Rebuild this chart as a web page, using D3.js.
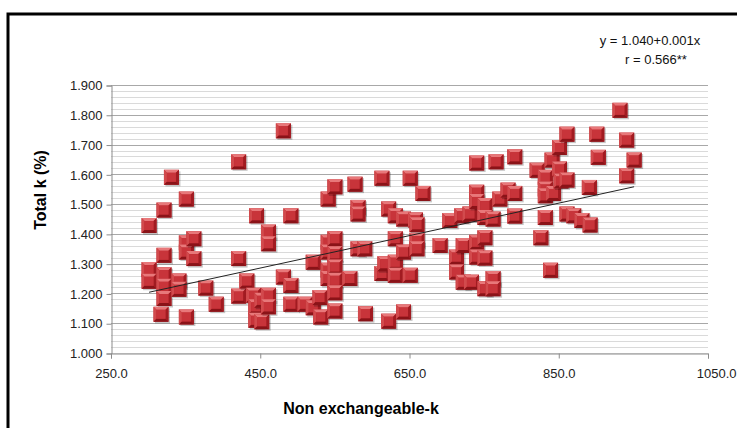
<!DOCTYPE html>
<html>
<head>
<meta charset="utf-8">
<script src="https://cdn.jsdelivr.net/npm/d3@7"></script>
<style>
  body { margin: 0; background: #fff; }
  svg { display: block; font-family: "Liberation Sans", Arial, sans-serif; }
</style>
</head>
<body>
<div id="target_area"></div>
<script>
// data: Non exchangeable-k (x) vs Total k % (y)
var nonExchK = [
  301, 301, 301,
  321, 321, 321, 321, 321, 317, 331,
  341, 341, 351, 351, 351, 351, 361, 361,
  377, 391, 421, 421, 421, 432, 441, 444, 444, 445,
  452, 452, 461, 461, 461, 461, 481, 481,
  491, 491, 491, 510, 521, 521, 530, 531,
  541, 541, 541, 541, 541,
  550, 550, 550, 550, 550, 550, 550,
  570, 577, 581, 581, 581, 590, 591,
  613, 613, 617, 622, 622, 631, 631, 631, 631,
  642, 642, 642, 651, 651, 658, 660, 660, 660, 668,
  691, 704, 713, 713, 720, 722, 722, 731, 733,
  740, 740, 740, 740, 740, 751, 751, 751, 751, 751,
  762, 762, 762, 766, 771, 782, 791, 791, 791,
  821, 826, 832, 832, 832, 832, 839, 841, 843,
  851, 851, 853, 861, 861, 861, 870, 881, 891, 892,
  901, 903, 932, 941, 941, 951
];
var totalK = [
  1.428, 1.280, 1.241,
  1.480, 1.328, 1.263, 1.224, 1.183, 1.130, 1.590,
  1.242, 1.214, 1.517, 1.370, 1.339, 1.121, 1.384, 1.317,
  1.218, 1.164, 1.642, 1.317, 1.191, 1.242, 1.194, 1.155, 1.110, 1.461,
  1.177, 1.105, 1.406, 1.367, 1.194, 1.155, 1.746, 1.255,
  1.461, 1.227, 1.164, 1.164, 1.305, 1.152, 1.186, 1.121,
  1.517, 1.372, 1.339, 1.278, 1.250,
  1.558, 1.384, 1.333, 1.289, 1.244, 1.202, 1.141,
  1.250, 1.567, 1.489, 1.467, 1.350, 1.350, 1.132,
  1.587, 1.267, 1.300, 1.484, 1.107, 1.461, 1.384, 1.305, 1.261,
  1.450, 1.339, 1.138, 1.587, 1.261, 1.447, 1.431, 1.378, 1.350, 1.536,
  1.361, 1.445, 1.322, 1.272, 1.461, 1.361, 1.238, 1.467, 1.238,
  1.638, 1.540, 1.509, 1.372, 1.322, 1.495, 1.455, 1.387, 1.319, 1.216,
  1.450, 1.250, 1.216, 1.642, 1.517, 1.547, 1.659, 1.536, 1.460,
  1.614, 1.387, 1.590, 1.551, 1.528, 1.455, 1.278, 1.648, 1.536,
  1.690, 1.618, 1.578, 1.735, 1.581, 1.467, 1.461, 1.445, 1.556, 1.430,
  1.735, 1.657, 1.815, 1.715, 1.595, 1.648
];
var xTicks = [250, 450, 650, 850, 1050];
var yTicks = [1.0, 1.1, 1.2, 1.3, 1.4, 1.5, 1.6, 1.7, 1.8, 1.9];
var trendIntercept = 1.040, trendSlope = 0.000545;
var eqLines = ["y = 1.040+0.001x", "r = 0.566**"];

var width = 737, height = 428;
var margin = {top: 85, right: 29, bottom: 75, left: 111};

var svg = d3.select("#target_area").append("svg")
  .attr("width", width)
  .attr("height", height);

var x = d3.scaleLinear().domain([250, 1050]).range([margin.left, width - margin.right]);
var y = d3.scaleLinear().domain([1.0, 1.9]).range([height - margin.bottom, margin.top]);

// outer frame (only top and left edges are in view)
svg.append("path")
  .attr("d", "M8," + height + "V14H" + width)
  .attr("fill", "none")
  .attr("stroke", "#000")
  .attr("stroke-width", 3);

// minor then major gridlines
var minor = d3.range(1.0, 1.9001, 0.02);
svg.append("g").selectAll("line")
  .data(minor)
  .enter().append("line")
  .attr("x1", margin.left).attr("x2", width - margin.right)
  .attr("y1", function (d) { return Math.round(y(d)) + 0.5; })
  .attr("y2", function (d) { return Math.round(y(d)) + 0.5; })
  .attr("stroke", "#dadada");

svg.append("g").selectAll("line")
  .data(yTicks.slice(1))
  .enter().append("line")
  .attr("x1", margin.left).attr("x2", width - margin.right)
  .attr("y1", function (d) { return Math.round(y(d)) + 0.5; })
  .attr("y2", function (d) { return Math.round(y(d)) + 0.5; })
  .attr("stroke", "#a8a8a8");

// axes
var yAxis = svg.append("g")
  .attr("transform", "translate(" + (margin.left + 0.5) + ",0.5)")
  .call(d3.axisLeft(y).tickValues(yTicks).tickFormat(d3.format(".3f")).tickSize(5).tickPadding(4));
var xAxis = svg.append("g")
  .attr("transform", "translate(0," + (height - margin.bottom + 0.5) + ")")
  .call(d3.axisBottom(x).tickValues(xTicks).tickFormat(d3.format(".1f")).tickSize(5).tickPadding(10));

[xAxis, yAxis].forEach(function (a) {
  a.select(".domain").attr("stroke", "#8c8c8c");
  a.selectAll(".tick line").attr("stroke", "#8c8c8c");
  a.selectAll("text").attr("fill", "#222").style("font-size", "13px");
});
xAxis.select(".tick:last-of-type text").attr("text-anchor", "end").attr("dx", "28");

// markers
var pts = nonExchK.map(function (v, i) { return {x: v, y: totalK[i]}; });
var s = 15, b = 3;

var g = svg.append("g").selectAll(".pt")
  .data(pts)
  .enter().append("g")
  .attr("class", "pt")
  .attr("transform", function (d) {
    return "translate(" + (x(d.x) - s / 2) + "," + (y(d.y) - s / 2) + ")";
  });

g.append("rect")
  .attr("x", 1.5).attr("y", 1.5).attr("width", s).attr("height", s)
  .attr("fill", "rgba(0,0,0,0.22)");
g.append("rect")
  .attr("width", s).attr("height", s)
  .attr("fill", "#b8262c");
g.append("path")
  .attr("d", "M0,0H" + s + "L" + (s - b) + "," + b + "H" + b + "Z")
  .attr("fill", "#e8787a");
g.append("path")
  .attr("d", "M0,0L" + b + "," + b + "V" + (s - b) + "L0," + s + "Z")
  .attr("fill", "#d24a4d");
g.append("path")
  .attr("d", "M" + s + ",0V" + s + "L" + (s - b) + "," + (s - b) + "V" + b + "Z")
  .attr("fill", "#a11b21");
g.append("path")
  .attr("d", "M0," + s + "H" + s + "L" + (s - b) + "," + (s - b) + "H" + b + "Z")
  .attr("fill", "#8a1318");
g.append("rect")
  .attr("x", b).attr("y", b).attr("width", s - 2 * b).attr("height", s - 2 * b)
  .attr("fill", "#c8343a");

// trend line over the markers
var xExt = d3.extent(nonExchK);
svg.append("line")
  .attr("x1", x(xExt[0])).attr("y1", y(trendIntercept + trendSlope * xExt[0]))
  .attr("x2", x(xExt[1])).attr("y2", y(trendIntercept + trendSlope * xExt[1]))
  .attr("stroke", "#222")
  .attr("stroke-width", 1);

// equation text
svg.append("g").selectAll("text")
  .data(eqLines)
  .enter().append("text")
  .attr("x", function (d, i) { return i ? 656 : 650; })
  .attr("y", function (d, i) { return 45 + i * 19; })
  .attr("text-anchor", "middle")
  .style("font-size", "13px")
  .attr("fill", "#111")
  .text(function (d) { return d; });

// axis titles
svg.append("text")
  .attr("x", 361).attr("y", 414)
  .attr("text-anchor", "middle")
  .style("font-size", "16px").style("font-weight", "bold")
  .text("Non exchangeable-k");

svg.append("text")
  .attr("transform", "translate(46,190) rotate(-90)")
  .attr("text-anchor", "middle")
  .style("font-size", "16px").style("font-weight", "bold")
  .text("Total k (%)");
</script>
</body>
</html>
